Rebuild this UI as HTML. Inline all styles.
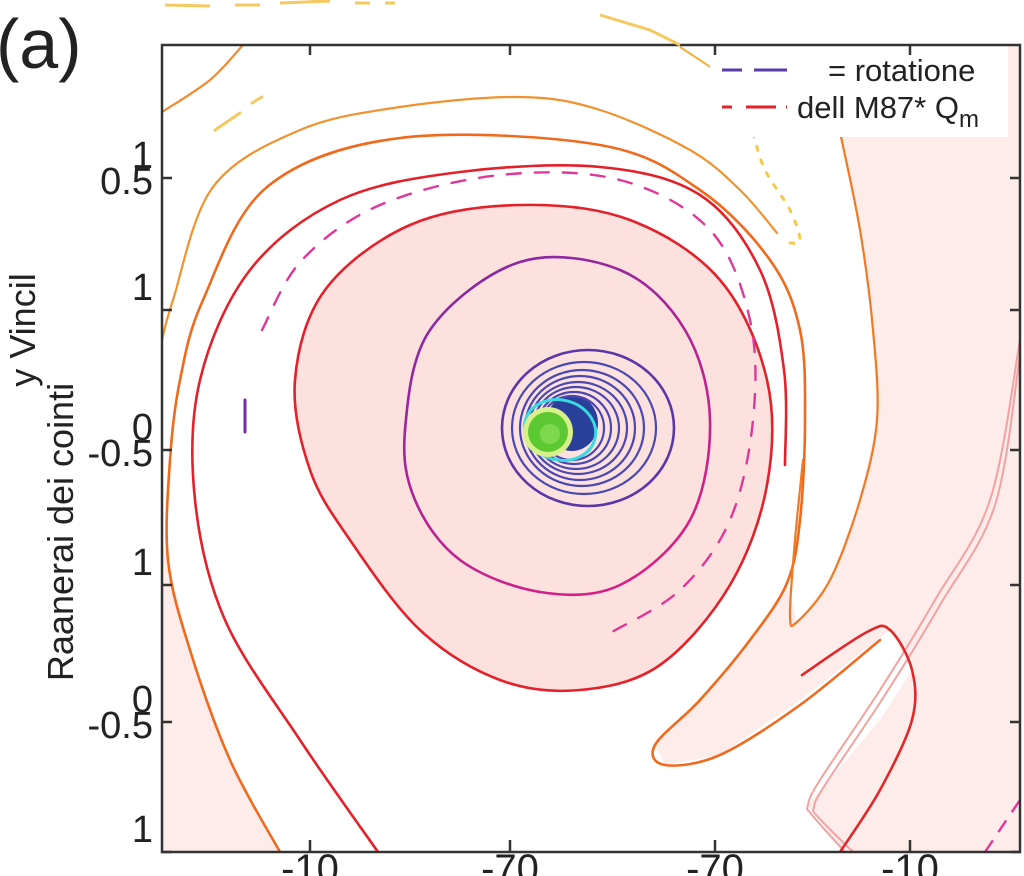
<!DOCTYPE html>
<html><head><meta charset="utf-8"><style>
html,body{margin:0;padding:0;background:#fff;}
svg{display:block;font-family:"Liberation Sans",sans-serif;}
</style></head><body>
<svg id="chart" width="1024" height="876" viewBox="0 0 1024 876" xmlns="http://www.w3.org/2000/svg">
<defs>
<linearGradient id="magGrad" x1="0" y1="0" x2="0.6" y2="1">
<stop offset="0" stop-color="#7a2aa8"/><stop offset="1" stop-color="#d81f86"/>
</linearGradient>
<clipPath id="plotClip"><rect x="162" y="45" width="858" height="807"/></clipPath>
</defs>
<g id="plot" clip-path="url(#plotClip)"></g>
<g id="overlay"></g>
</svg>
<script>
// ---- chart data (plot units: x 0..858 left→right, y 0..807 top→bottom) ----
const xTickLabels = ["-10","-70","-70","-10"];
const xTickValues = [148, 348, 553, 748];
const yTickLabels = [["1","0.5"],["1",""],["0","-0.5"],["1",""],["0","-0.5"],["1",""]];
const yTickValues = [133, 265, 405, 540, 677, 807];
const legendLabels = ["= rotatione","dell M87* Q"];
const ringRx = [86, 72, 62, 55, 49, 43, 37, 32];
const ringRy = [78, 66, 58, 52, 46, 41, 36, 32];
const ringCx = [426, 422, 420, 418, 416, 414, 412, 410];
const innerRed = [[133,335],[163,245],[248,180],[358,160],[468,175],[558,235],[605,335],[605,440],[568,540],[498,620],[418,645],[338,635],[258,585],[188,495],[148,425]];
const magentaRing = [[243,385],[268,285],[358,217],[458,225],[523,285],[548,375],[528,475],[458,540],[378,547],[298,515],[253,455]];
const outerRed = [[216,807],[138,695],[63,575],[33,455],[38,335],[88,225],[178,155],[298,127],[438,122],[538,150],[598,225],[622,325],[623,420]];
const dashedMag = [[100,285],[140,215],[218,160],[338,130],[458,135],[548,185],[588,275],[591,375],[568,475],[518,545],[450,587]];
const orangeA = [[0,295],[11,255],[51,142],[138,85],[238,62],[358,52],[438,65],[528,105],[578,145],[615,188]];
const orangeB = [[118,807],[68,715],[28,605],[6,515],[8,415],[18,335],[41,255],[105,142],[238,93],[438,100],[538,145],[608,215],[638,285],[643,375],[638,475],[625,538],[588,595],[538,655],[493,700],[503,720],[558,710],[638,660],[718,595]];
const orangeTop = [[81,0],[48,35],[0,67]];
const finger = [[678,87],[698,185],[711,285],[715,375],[698,455],[668,535],[635,577],[628,570],[633,495],[641,415]];
const redLoop = [[678,807],[718,745],[750,675],[750,625],[728,585],[705,587],[640,630]];
const salmon1 = [[858,295],[828,455],[773,555],[718,645],[658,735],[646,760],[650,770],[683,807]];
const salmon2 = [[858,310],[833,460],[778,560],[723,650],[663,740],[652,762],[656,772],[691,807]];
const yellowDots = [[591,88],[603,125],[628,165],[638,195],[628,198]];

// ---- scales ----
const X0=162, Y0=45;
function sx(v){return X0+v;}
function sy(v){return Y0+v;}
const NS="http://www.w3.org/2000/svg";
const plot=document.getElementById('plot');
const overlay=document.getElementById('overlay');
function mk(tag,attrs,parent){const e=document.createElementNS(NS,tag);for(const k in attrs)e.setAttribute(k,attrs[k]);(parent||plot).appendChild(e);return e;}
function smooth(pts,closed){
  const p=pts.map(q=>[sx(q[0]),sy(q[1])]);const n=p.length;
  let d="M"+p[0][0]+","+p[0][1];
  const get=i=>closed?p[(i+n)%n]:p[Math.max(0,Math.min(n-1,i))];
  const last=closed?n:n-1;
  for(let i=0;i<last;i++){const p0=get(i-1),p1=get(i),p2=get(i+1),p3=get(i+2);
    const c1=[p1[0]+(p2[0]-p0[0])/6,p1[1]+(p2[1]-p0[1])/6],c2=[p2[0]-(p3[0]-p1[0])/6,p2[1]-(p3[1]-p1[1])/6];
    d+=" C"+c1[0].toFixed(1)+","+c1[1].toFixed(1)+" "+c2[0].toFixed(1)+","+c2[1].toFixed(1)+" "+p2[0].toFixed(1)+","+p2[1].toFixed(1);}
  if(closed)d+="Z";return d;}
function poly(pts){return pts.map((q,i)=>(i?"L":"M")+sx(q[0])+","+sy(q[1])).join(" ")+"Z";}

// pink background regions
let e;
e=mk('path',{d:poly([[631,0],[858,0],[858,807],[683,807],[646,760],[718,675],[750,625],[728,585],[638,655],[558,710],[503,720],[493,700],[538,655],[588,595],[625,538],[635,577],[668,535],[698,455],[715,375],[711,285],[698,185],[678,87],[660,40]]),fill:"#fdecea",stroke:"none"});


e=mk('path',{d:poly([[0,495],[6,515],[28,605],[68,715],[118,807],[0,807]]),fill:"#fdecea",stroke:"none"});


e=mk('path',{d:smooth(innerRed,true),fill:"#fce1de",stroke:"none"});



function line(pts,closed,stroke,w,name,dash){
  const a={d:smooth(pts,closed),fill:"none",stroke:stroke,"stroke-width":w,"stroke-linecap":"round"};
  if(dash)a["stroke-dasharray"]=dash;
  const el=mk('path',a);
  
  
  return el;}

line(orangeTop,false,"#f08a30",2.2,"contour-orange-top");
line(orangeA,false,"#f0922e",2.2,"contour-orange-a");
line(orangeB,false,"#f06a1e",2.6,"contour-orange-b");
line(finger,false,"#f07a24",2.2,"contour-orange-finger");
line(salmon1,false,"#f4a2a0",2,"contour-salmon-1");
line(salmon2,false,"#f4a2a0",2,"contour-salmon-2");
line(redLoop,false,"#e0282a",2.6,"contour-red-loop");
line(outerRed,false,"#e4202a",2.6,"contour-red-outer");
line(innerRed,true,"#e4202a",2.6,"contour-red-inner");
line(dashedMag,false,"#e0389a",2.4,"contour-magenta-dashed","14 14");
line(magentaRing,true,"url(#magGrad)",2.6,"contour-magenta-ring");
line(yellowDots,false,"#f5c84a",3,"contour-yellow-dotted","4 10");
e=mk('path',{d:"M"+sx(518)+","+sy(2)+" L"+sx(553)+","+sy(25),stroke:"#f2b440","stroke-width":2.2,fill:"none"});


e=mk('path',{d:"M"+sx(53)+","+sy(85)+" L"+sx(78)+","+sy(68)+" M"+sx(90)+","+sy(58)+" L"+sx(100)+","+sy(52),stroke:"#f5c860","stroke-width":3,fill:"none","stroke-linecap":"round"});


e=mk('path',{d:"M"+sx(83)+","+sy(355)+" L"+sx(83)+","+sy(387),stroke:"#7a2aa8","stroke-width":3,fill:"none","stroke-linecap":"round"});


e=mk('path',{d:"M"+sx(823)+","+sy(807)+" L"+sx(858)+","+sy(755),stroke:"#e0389a","stroke-width":2.4,fill:"none","stroke-dasharray":"14 10"});



// core blue rings
e=mk('ellipse',{cx:sx(410),cy:sy(378),rx:26,ry:28,fill:"#2a3f9a"});


for(let i=0;i<ringRx.length;i++){
  const r=mk('ellipse',{cx:sx(ringCx[i]),cy:sy(383),rx:ringRx[i],ry:ringRy[i],fill:"none",stroke:i==0?"#5b36a8":"#4a48b0","stroke-width":i==0?2.6:2.2});
  
  
}
e=mk('ellipse',{cx:sx(398),cy:sy(385),rx:36,ry:30,fill:"none",stroke:"#3ad8e0","stroke-width":3,transform:"rotate(15 "+sx(398)+" "+sy(385)+")"});


e=mk('circle',{cx:sx(386),cy:sy(387),r:25,fill:"#d8f08a"});


e=mk('circle',{cx:sx(386),cy:sy(387),r:20,fill:"#5cc832"});


e=mk('circle',{cx:sx(388),cy:sy(389),r:10,fill:"#7ed84e"});



// legend
e=mk('rect',{x:sx(548),y:sy(0),width:298,height:92,fill:"#fff"},overlay);


const legColors=["#5a3aa8","#e4202a"], legY=[70,107], legTx=[828,797];
for(let i=0;i<legendLabels.length;i++){
  const l=mk('path',{d:"M722,"+legY[i]+" L787,"+legY[i],stroke:legColors[i],"stroke-width":3,"stroke-dasharray":i==0?"20 12 34":"10 14 30",fill:"none"},overlay);
  
  
  const t=mk('text',{x:legTx[i],y:legY[i]+11,"font-size":31,fill:"#222"},overlay);
  t.textContent=legendLabels[i];
  
  
  if(i==1){const s=mk('tspan',{"font-size":24,dy:9},t);s.textContent="m";}
}

// axes frame
e=mk('rect',{x:162,y:45,width:858,height:807,fill:"none",stroke:"#333","stroke-width":2.5},overlay);


for(let i=0;i<xTickValues.length;i++){
  const xv=sx(xTickValues[i]);
  const tk=mk('path',{d:"M"+xv+",852 L"+xv+",840 M"+xv+",45 L"+xv+",55",stroke:"#333","stroke-width":2.5},overlay);
  
  
  const t=mk('text',{x:xv,y:882,"font-size":40,"text-anchor":"middle",fill:"#222"},overlay);
  t.textContent=xTickLabels[i];
  
  
}
for(let i=0;i<yTickValues.length;i++){
  const yv=sy(yTickValues[i]);
  const tk=mk('path',{d:"M162,"+yv+" L172,"+yv+" M1020,"+yv+" L1010,"+yv,stroke:"#333","stroke-width":2.5},overlay);
  
  
  const a=mk('text',{x:153,y:yv-10,"font-size":38,"text-anchor":"end",fill:"#222"},overlay);
  a.textContent=yTickLabels[i][0];
  
  
  if(yTickLabels[i][1]){const b=mk('text',{x:153,y:yv+16,"font-size":38,"text-anchor":"end",fill:"#222"},overlay);
  b.textContent=yTickLabels[i][1];
  
  }
}
e=mk('text',{x:0,y:0,"font-size":36,"text-anchor":"middle",fill:"#222",transform:"translate(35,330) rotate(-90)"},overlay);
e.textContent="y Vincil";


e=mk('text',{x:0,y:0,"font-size":36,"text-anchor":"middle",fill:"#222",transform:"translate(73,532) rotate(-90)"},overlay);
e.textContent="Raanerai dei cointi";


e=mk('text',{x:-4,y:68,"font-size":70,fill:"#222"},overlay);
e.textContent="(a)";


e=mk('path',{d:"M165,5 L210,6 M235,5 L260,5 M280,3 L330,1 M355,3 L370,3 M385,3 L395,3 M600,15 L650,30 L680,45",stroke:"#f5c860","stroke-width":3,fill:"none"},overlay);


</script>
</body></html>
